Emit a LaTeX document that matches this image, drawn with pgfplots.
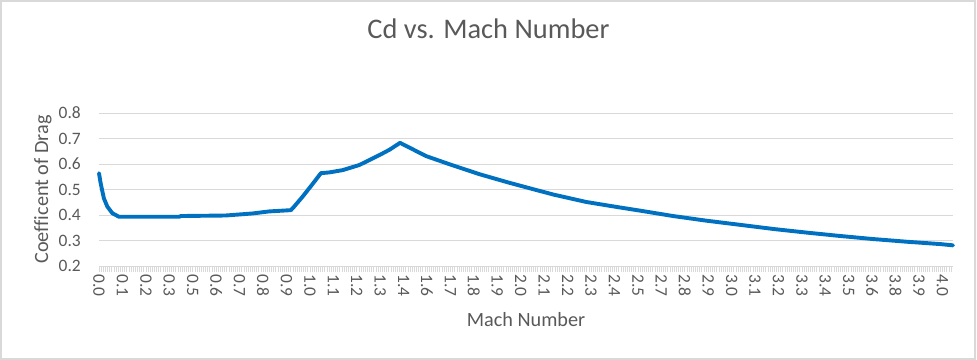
\documentclass[border=0pt]{standalone}
\usepackage{pgfplots}
\pgfplotsset{compat=1.18}
\usepackage{fontspec}
\setmainfont{Carlito}[Ligatures=CommonOff]
\definecolor{txtgray}{HTML}{595959}
\definecolor{gridgray}{HTML}{D9D9D9}
\definecolor{xlblue}{HTML}{0070C0}
\begin{document}
\begin{tikzpicture}
\path (0,0) rectangle (977bp,360bp);
\draw[gridgray, line width=2bp] (1bp,1bp) rectangle (974.5bp,358.5bp);
\begin{axis}[
  at={(99bp,94bp)}, anchor=south west,
  scale only axis, width=854bp, height=153bp,
  xmin=0, xmax=36.45, ymin=0.2, ymax=0.8,
  axis lines*=left,
  x axis line style={draw=gridgray, line width=0.8bp},
  y axis line style={draw=none},
  ytick={0.2,0.3,0.4,0.5,0.6,0.7,0.8},
  yticklabels={0.2,0.3,0.4,0.5,0.6,0.7,0.8},
  ymajorgrids, grid style={gridgray, line width=0.9bp},
  ytick style={draw=none},
  xtick={0,1,...,37},
  xticklabels={0.0,0.1,0.2,0.3,0.5,0.6,0.7,0.8,0.9,1.0,1.1,1.2,1.3,1.4,1.6,1.7,1.8,1.9,2.0,2.1,2.2,2.3,2.4,2.5,2.7,2.8,2.9,3.0,3.1,3.2,3.3,3.4,3.5,3.6,3.8,3.9,4.0,{}},
  minor x tick num=10,
  tick align=outside,
  major tick length=6bp, minor tick length=6bp,
  xtick style={draw=gridgray, line width=0.6bp},
  tick label style={font=\fontsize{17.5}{18}\selectfont, text=txtgray},
  x tick label style={rotate=-90, anchor=west, inner sep=0pt, xshift=2bp},
  y tick label style={inner sep=0pt, xshift=-12bp},
  /pgf/number format/assume math mode=true,
  title={Cd vs. Mach Number},
  title style={at={(rel axis cs:0.456,1.51)}, anchor=center, font=\fontsize{28.5}{30}\selectfont, text=txtgray},
  xlabel={Mach Number},
  xlabel style={at={(rel axis cs:0.5,-0.353)}, anchor=center, font=\fontsize{20.3}{22}\selectfont, text=txtgray},
  ylabel={Coefficent of Drag},
  ylabel style={at={(rel axis cs:-0.0656,0.5)}, anchor=center, font=\fontsize{20.3}{22}\selectfont, text=txtgray},
  clip=false,
]
\addplot[xlblue, line width=3.9bp, line join=round, line cap=round] coordinates {
(0,0.564) (0.06,0.53) (0.115,0.505) (0.21,0.465) (0.355,0.433) (0.57,0.407) (0.855,0.393)
(3.42,0.393) (3.5,0.396) (5.4,0.398) (6.55,0.406) (7.26,0.414) (8.19,0.419)
(8.33,0.433) (8.69,0.472) (9.12,0.522) (9.47,0.564) (9.83,0.567) (10.4,0.576)
(11.11,0.596) (11.97,0.635) (12.4,0.656) (12.85,0.683) (13.96,0.631) (14.96,0.599)
(16.24,0.56) (17.45,0.528) (18.5,0.502) (19.4,0.480) (20.8,0.451) (22.2,0.430)
(23.1,0.417) (24.5,0.396) (25.9,0.378) (27.4,0.361) (28.8,0.345) (30.2,0.331)
(31.6,0.318) (33.0,0.306) (34.5,0.295) (35.9,0.286) (36.45,0.281)
};
\end{axis}
\end{tikzpicture}
\end{document}
